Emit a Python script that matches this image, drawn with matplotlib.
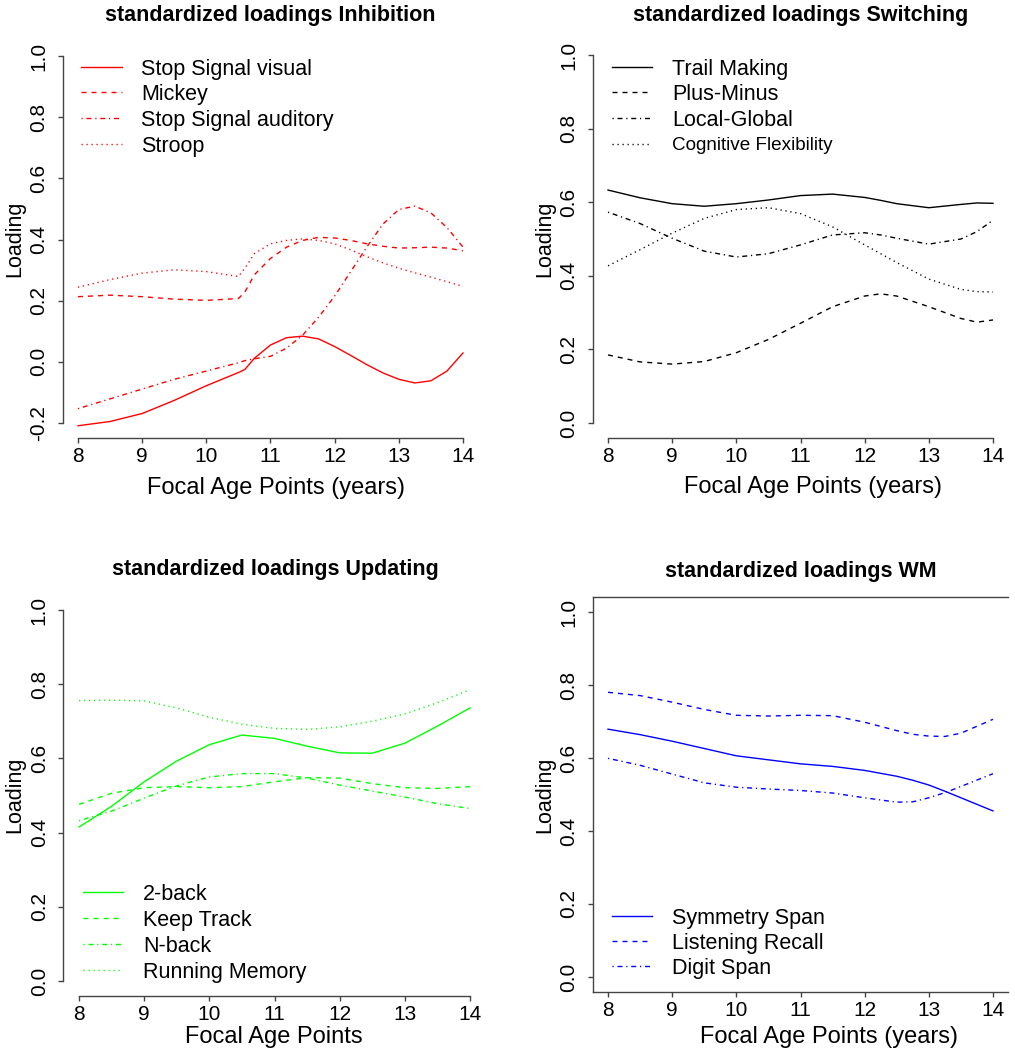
import matplotlib
matplotlib.use('Agg')
import matplotlib.pyplot as plt
from matplotlib.lines import Line2D

plt.rcParams['font.family'] = ['Liberation Sans', 'DejaVu Sans']

W, H = 1015, 1064

# ---- Inhibition ----
inh_x = [8, 8.5, 9, 9.5, 10, 10.5, 10.6, 10.75, 11, 11.25, 11.5, 11.75, 12, 12.25, 12.5, 12.75, 13, 13.25, 13.5, 13.75, 14]
inh_stop_visual = [-0.209, -0.195, -0.169, -0.126, -0.078, -0.035, -0.025, 0.012, 0.055, 0.079, 0.084, 0.075,
                   0.050, 0.021, -0.009, -0.036, -0.057, -0.069, -0.062, -0.030, 0.029]
inh_mickey = [0.213, 0.218, 0.213, 0.205, 0.201, 0.207, 0.228, 0.285, 0.338, 0.375, 0.397, 0.407,
              0.405, 0.397, 0.386, 0.378, 0.372, 0.373, 0.375, 0.372, 0.363]
inh_stop_auditory = [-0.153, -0.121, -0.089, -0.057, -0.030, -0.003, 0.004, 0.010, 0.018, 0.045, 0.087, 0.146,
                     0.215, 0.295, 0.375, 0.450, 0.498, 0.509, 0.487, 0.439, 0.375]
inh_stroop = [0.244, 0.269, 0.290, 0.301, 0.295, 0.279, 0.306, 0.354, 0.386, 0.397, 0.402, 0.397,
              0.386, 0.366, 0.344, 0.324, 0.306, 0.291, 0.277, 0.262, 0.247]

# ---- Switching ----
sw_x = [8, 8.5, 9, 9.5, 10, 10.5, 11, 11.5, 12, 12.25, 12.5, 13, 13.5, 13.75, 14]
sw_trail = [0.633, 0.612, 0.596, 0.589, 0.596, 0.606, 0.618, 0.622, 0.613, 0.605, 0.596, 0.585, 0.594, 0.598, 0.597]
sw_plusminus = [0.185, 0.166, 0.160, 0.167, 0.191, 0.227, 0.271, 0.316, 0.345, 0.351, 0.345, 0.316, 0.284, 0.274, 0.280]
sw_localglobal = [0.573, 0.542, 0.502, 0.467, 0.451, 0.460, 0.484, 0.511, 0.517, 0.511, 0.502, 0.486, 0.500, 0.520, 0.551]
sw_cogflex = [0.427, 0.471, 0.516, 0.556, 0.580, 0.585, 0.569, 0.533, 0.484, 0.460, 0.436, 0.391, 0.363, 0.357, 0.356]

# ---- Updating ----
up_x = [8, 8.5, 9, 9.5, 10, 10.5, 11, 11.5, 12, 12.5, 13, 13.5, 14]
up_2back = [0.415, 0.471, 0.537, 0.593, 0.637, 0.663, 0.654, 0.633, 0.615, 0.614, 0.641, 0.687, 0.736]
up_keeptrack = [0.476, 0.506, 0.521, 0.524, 0.521, 0.524, 0.537, 0.548, 0.547, 0.532, 0.521, 0.519, 0.524]
up_nback = [0.432, 0.458, 0.493, 0.526, 0.550, 0.559, 0.559, 0.547, 0.528, 0.512, 0.496, 0.478, 0.465]
up_running = [0.756, 0.757, 0.755, 0.736, 0.711, 0.692, 0.681, 0.678, 0.685, 0.700, 0.720, 0.750, 0.785]

# ---- WM ----
wm_x = [8, 8.5, 9, 9.5, 10, 10.5, 11, 11.5, 12, 12.5, 12.75, 13, 13.25, 13.5, 14]
wm_symmetry = [0.679, 0.664, 0.646, 0.626, 0.606, 0.595, 0.584, 0.577, 0.566, 0.550, 0.539, 0.526, 0.509, 0.491, 0.455]
wm_listening = [0.780, 0.771, 0.753, 0.733, 0.717, 0.715, 0.717, 0.716, 0.698, 0.675, 0.665, 0.660, 0.659, 0.668, 0.706]
wm_digit = [0.599, 0.580, 0.556, 0.532, 0.520, 0.515, 0.511, 0.504, 0.491, 0.479, 0.480, 0.491, 0.505, 0.522, 0.557]

SOLID = '-'
DASHED = (0, (3.6, 3.6))
DOTDASH = (0, (0.9, 2.7, 3.6, 2.7))
DOTTED = (0, (0.9, 2.7))
AXCOL = '#444444'


def fx(px):
    return px / W


def fy(py):
    return 1 - py / H


def panel(rect, ylo, yticks, ylabels, box=False):
    x0, y0, x1, y1 = rect
    ax = fig.add_axes([fx(x0), fy(y1), (x1 - x0) / W, (y1 - y0) / H])
    ax.set_xlim(8 - 0.24, 14 + 0.24)
    span = 1.0 - ylo
    ax.set_ylim(ylo - 0.04 * span, 1.0 + 0.04 * span)
    ax.set_xticks(range(8, 15))
    ax.set_yticks(yticks)
    ax.set_yticklabels(ylabels, rotation=90, va='center')
    for s in ax.spines.values():
        s.set_color(AXCOL)
        s.set_linewidth(1.0)
    ax.spines['right'].set_visible(False)
    if box:
        ax.spines['top'].set_visible(True)
    else:
        ax.spines['top'].set_visible(False)
        ax.spines['left'].set_bounds(ylo, 1.0)
        ax.spines['bottom'].set_bounds(8, 14)
    ax.tick_params(axis='both', colors=AXCOL, labelcolor='black', length=3.5, width=1.0, labelsize=15)
    ax.tick_params(axis='x', pad=3)
    ax.tick_params(axis='y', pad=7)
    return ax


def legend(entries, color, x0, x1, xt, ys, size=15.5):
    for (lab, ls), y in zip(entries, ys):
        fig.add_artist(Line2D([fx(x0), fx(x1)], [fy(y), fy(y)], transform=fig.transFigure,
                              color=color, lw=1.0, linestyle=ls))
        fig.text(fx(xt), fy(y), lab, fontsize=size if lab != 'Cognitive Flexibility' else 13.6,
                 ha='left', va='center_baseline')


fig = plt.figure(figsize=(W / 100, H / 100), dpi=100)

ticks01 = [0.0, 0.2, 0.4, 0.6, 0.8, 1.0]
labs01 = ['0.0', '0.2', '0.4', '0.6', '0.8', '1.0']
TSIZE = 15.5
XSIZE = 17

# panel 1
ax1 = panel((62.6, 41.3, 478.4, 437.7), -0.2, [-0.2] + ticks01, ['-0.2'] + labs01)
red = '#FF0000'
ax1.plot(inh_x, inh_stop_visual, color=red, lw=1.0, linestyle=SOLID)
ax1.plot(inh_x, inh_mickey, color=red, lw=1.0, linestyle=DASHED)
ax1.plot(inh_x, inh_stop_auditory, color=red, lw=1.0, linestyle=DOTDASH)
ax1.plot(inh_x, inh_stroop, color=red, lw=1.0, linestyle=DOTTED)
fig.text(fx(270), fy(15), 'standardized loadings Inhibition', fontsize=TSIZE, fontweight='bold', ha='center', va='center')
fig.text(fx(276), fy(488), 'Focal Age Points (years)', fontsize=XSIZE, ha='center', va='center')
fig.text(fx(15), fy(239), 'Loading', fontsize=15.5, rotation=90, ha='center', va='center')
legend([('Stop Signal visual', SOLID), ('Mickey', DASHED), ('Stop Signal auditory', DOTDASH), ('Stroop', DOTTED)],
       red, 81, 122, 141, [67, 92, 118, 144])

# panel 2
ax2 = panel((592.6, 40.3, 1008.4, 437.7), 0.0, ticks01, labs01)
ax2.plot(sw_x, sw_trail, color='black', lw=1.0, linestyle=SOLID)
ax2.plot(sw_x, sw_plusminus, color='black', lw=1.0, linestyle=DASHED)
ax2.plot(sw_x, sw_localglobal, color='black', lw=1.0, linestyle=DOTDASH)
ax2.plot(sw_x, sw_cogflex, color='black', lw=1.0, linestyle=DOTTED)
fig.text(fx(801), fy(15), 'standardized loadings Switching', fontsize=TSIZE, fontweight='bold', ha='center', va='center')
fig.text(fx(813), fy(487), 'Focal Age Points (years)', fontsize=XSIZE, ha='center', va='center')
fig.text(fx(545), fy(239), 'Loading', fontsize=15.5, rotation=90, ha='center', va='center')
legend([('Trail Making', SOLID), ('Plus-Minus', DASHED), ('Local-Global', DOTDASH), ('Cognitive Flexibility', DOTTED)],
       'black', 612, 652, 672, [67, 92, 118, 144])

# panel 3
ax3 = panel((63.4, 595.2, 485.6, 995.8), 0.0, ticks01, labs01)
green = '#00FF00'
ax3.plot(up_x, up_2back, color=green, lw=1.0, linestyle=SOLID)
ax3.plot(up_x, up_keeptrack, color=green, lw=1.0, linestyle=DASHED)
ax3.plot(up_x, up_nback, color=green, lw=1.0, linestyle=DOTDASH)
ax3.plot(up_x, up_running, color=green, lw=1.0, linestyle=DOTTED)
fig.text(fx(275), fy(569), 'standardized loadings Updating', fontsize=TSIZE, fontweight='bold', ha='center', va='center')
fig.text(fx(274), fy(1037), 'Focal Age Points', fontsize=XSIZE, ha='center', va='center')
fig.text(fx(15), fy(795), 'Loading', fontsize=15.5, rotation=90, ha='center', va='center')
legend([('2-back', SOLID), ('Keep Track', DASHED), ('N-back', DOTDASH), ('Running Memory', DOTTED)],
       green, 83, 123, 143, [892, 918, 944, 970])

# panel 4
ax4 = panel((592.6, 597.4, 1008.4, 991.6), 0.0, ticks01, labs01, box=True)
blue = '#0000FF'
ax4.plot(wm_x, wm_symmetry, color=blue, lw=1.0, linestyle=SOLID)
ax4.plot(wm_x, wm_listening, color=blue, lw=1.0, linestyle=DASHED)
ax4.plot(wm_x, wm_digit, color=blue, lw=1.0, linestyle=DOTDASH)
fig.text(fx(801), fy(572), 'standardized loadings WM', fontsize=TSIZE, fontweight='bold', ha='center', va='center')
fig.text(fx(829), fy(1037), 'Focal Age Points (years)', fontsize=XSIZE, ha='center', va='center')
fig.text(fx(545), fy(795), 'Loading', fontsize=15.5, rotation=90, ha='center', va='center')
legend([('Symmetry Span', SOLID), ('Listening Recall', DASHED), ('Digit Span', DOTDASH)],
       blue, 612, 652, 672, [916, 941, 966])

fig.savefig('out.png', dpi=100)
